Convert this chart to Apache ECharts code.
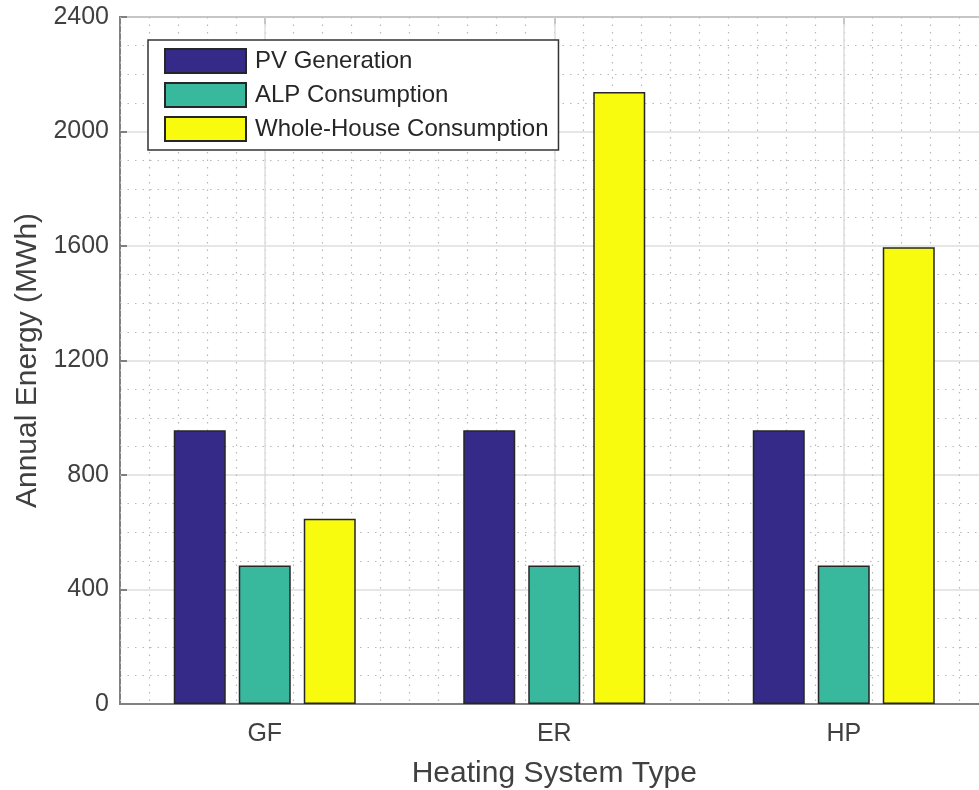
<!DOCTYPE html>
<html>
<head>
<meta charset="utf-8">
<script src="https://cdn.jsdelivr.net/npm/echarts@6/dist/echarts.min.js"></script>
<style>
  html, body { margin: 0; padding: 0; background: #fff; }
  #chart { width: 979px; height: 790px; }
</style>
</head>
<body>
<div id="chart"></div>
<script>
// data
const categories = ['GF', 'ER', 'HP'];
const pvGeneration = [956, 956, 956];
const alpConsumption = [484, 484, 484];
const wholeHouse = [647, 2138, 1596];
const yTicks = { min: 0, max: 2400, interval: 400 };

const font = 'Liberation Sans, Arial, Helvetica, sans-serif';
const textColor = '#404040';
const axisColor = '#808080';
const majorGrid = '#dedede';
const minorGrid = '#b8b8b8';
const dots = [1.5, 6];

let myChart = echarts.init(document.getElementById('chart'));

function barSeries(name, data, color) {
  return {
    name: name,
    type: 'bar',
    xAxisIndex: 0,
    data: data,
    barWidth: 52,
    barGap: '25%',
    itemStyle: { color: color, borderColor: '#262626', borderWidth: 1.5 },
    z: 3
  };
}

myChart.setOption({
  animation: false,
  backgroundColor: '#fff',
  textStyle: { fontFamily: font },
  grid: {
    left: 120, top: 17, width: 868.5, height: 687,
    outerBoundsMode: 'none',
    containLabel: false,
    show: true, borderColor: axisColor, borderWidth: 2, backgroundColor: 'transparent'
  },
  legend: {
    orient: 'vertical',
    left: 148, top: 40,
    padding: [8, 10, 8, 16],
    itemWidth: 81, itemHeight: 24, itemGap: 8,
    backgroundColor: '#fff',
    borderColor: '#333', borderWidth: 1.5,
    icon: 'rect',
    textStyle: { fontFamily: font, fontSize: 24, color: '#262626', padding: [0, 0, 0, 4] },
    data: ['PV Generation', 'ALP Consumption', 'Whole-House Consumption']
  },
  xAxis: [
    {
      type: 'category',
      data: categories,
      position: 'bottom',
      name: 'Heating System Type',
      nameLocation: 'middle',
      nameGap: 55,
      nameTextStyle: { fontFamily: font, fontSize: 30, color: textColor },
      axisLine: { lineStyle: { color: axisColor, width: 2 } },
      axisTick: { show: true, inside: true, alignWithLabel: true, length: 7, lineStyle: { color: axisColor, width: 2 } },
      axisLabel: { fontFamily: font, fontSize: 25, color: textColor, margin: 18 },
      splitLine: { show: true, alignWithLabel: true, lineStyle: { color: majorGrid, width: 1.5 } },
      z: 2
    },
    {
      // hidden helper axis for the dotted minor grid
      type: 'value',
      position: 'top',
      min: 0.5, max: 3.5, interval: 0.5,
      axisLine: { show: false },
      axisTick: { show: false },
      axisLabel: { show: false },
      splitLine: { show: true, lineStyle: { color: minorGrid, type: dots, width: 1.2 } },
      minorTick: { show: false, splitNumber: 5 },
      minorSplitLine: { show: true, lineStyle: { color: minorGrid, type: dots, width: 1.2 } },
      z: 1
    },
    {
      type: 'category',
      data: categories,
      position: 'top',
      axisLine: { show: false },
      axisTick: { show: true, inside: true, alignWithLabel: true, length: 7, lineStyle: { color: axisColor, width: 2 } },
      axisLabel: { show: false },
      splitLine: { show: false }
    }
  ],
  yAxis: {
    type: 'value',
    min: yTicks.min, max: yTicks.max, interval: yTicks.interval,
    name: 'Annual Energy (MWh)',
    nameLocation: 'middle',
    nameGap: 67,
    nameTextStyle: { fontFamily: font, fontSize: 30, color: textColor },
    axisLine: { show: true, lineStyle: { color: axisColor, width: 2 } },
    axisTick: { show: true, inside: true, length: 7, lineStyle: { color: axisColor, width: 2 } },
    axisLabel: { fontFamily: font, fontSize: 25, color: textColor, margin: 11, formatter: v => String(v) },
    splitLine: { lineStyle: { color: majorGrid, width: 1.5 } },
    minorTick: { show: false, splitNumber: 4 },
    minorSplitLine: { show: true, lineStyle: { color: minorGrid, type: dots, width: 1.2 } }
  },
  series: [
    barSeries('PV Generation', pvGeneration, '#352A87'),
    barSeries('ALP Consumption', alpConsumption, '#38B89D'),
    barSeries('Whole-House Consumption', wholeHouse, '#F9FB0E')
  ]
});
</script>
</body>
</html>
